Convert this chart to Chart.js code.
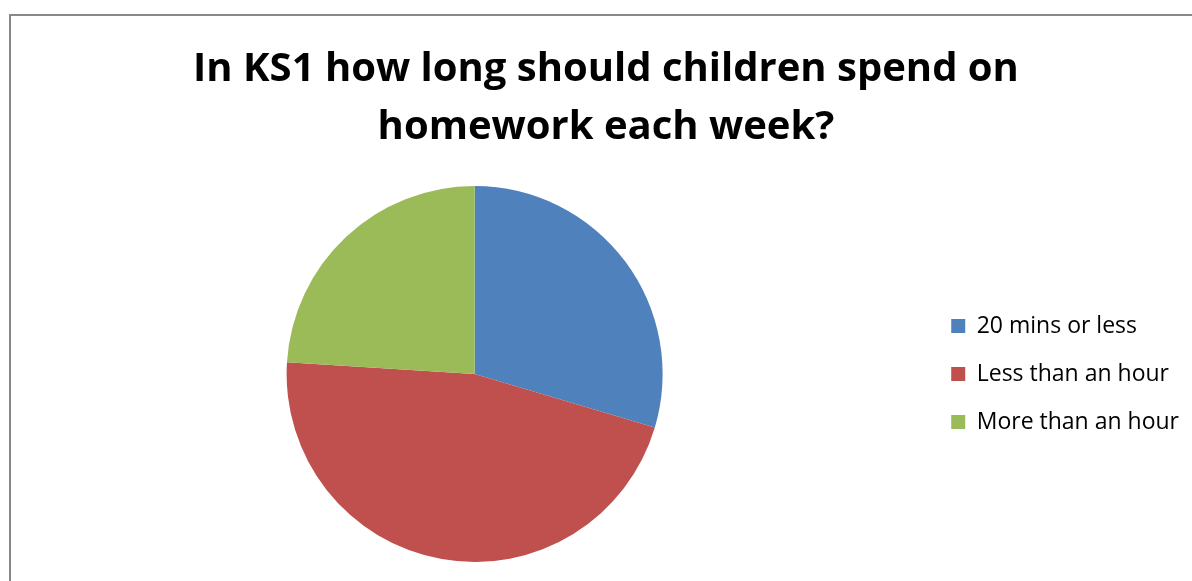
<!DOCTYPE html>
<html>
<head>
<meta charset="utf-8">
<script src="https://cdn.jsdelivr.net/npm/chart.js@4"></script>
<style>
  html, body { margin: 0; padding: 0; background: #fff; }
  body { width: 1192px; height: 581px; position: relative; overflow: hidden; }
  .frame {
    position: absolute; left: 9px; top: 14px; width: 1400px; height: 800px;
    border-left: 2px solid #888; border-top: 2px solid #888;
  }
  #wrap { position: absolute; left: 0; top: 0; width: 1192px; height: 581px; }
</style>
</head>
<body>
<div class="frame"></div>
<div id="wrap"><canvas id="pie-chart"></canvas></div>
<script>
const titleLines = ['In KS1 how long should children spend on', 'homework each week?'];
const categories = ['20 mins or less', 'Less than an hour', 'More than an hour'];
const shares = [29.6, 46.4, 24.0];
const colours = ['#4f81bd', '#c0504d', '#9bbb59'];

new Chart('pie-chart', {
    type: 'pie',
    data: {
        labels: categories,
        datasets: [{
            data: shares,
            backgroundColor: colours,
            borderWidth: 0
        }]
    },
    options: {
        responsive: true,
        maintainAspectRatio: false,
        animation: false,
        layout: { padding: { left: 23, right: 3, top: 0, bottom: 19 } },
        plugins: {
            title: {
                display: true,
                text: titleLines,
                color: '#000',
                font: { family: 'Open Sans', size: 40, weight: 'bold', lineHeight: 1.45 },
                padding: { top: 41, bottom: 29 }
            },
            legend: {
                position: 'right',
                fullSize: false,
                labels: {
                    color: '#000',
                    font: { family: 'Open Sans', size: 23 },
                    boxWidth: 14,
                    boxHeight: 14,
                    padding: 25
                }
            },
            tooltip: { enabled: false }
        }
    }
});
</script>
</body>
</html>
